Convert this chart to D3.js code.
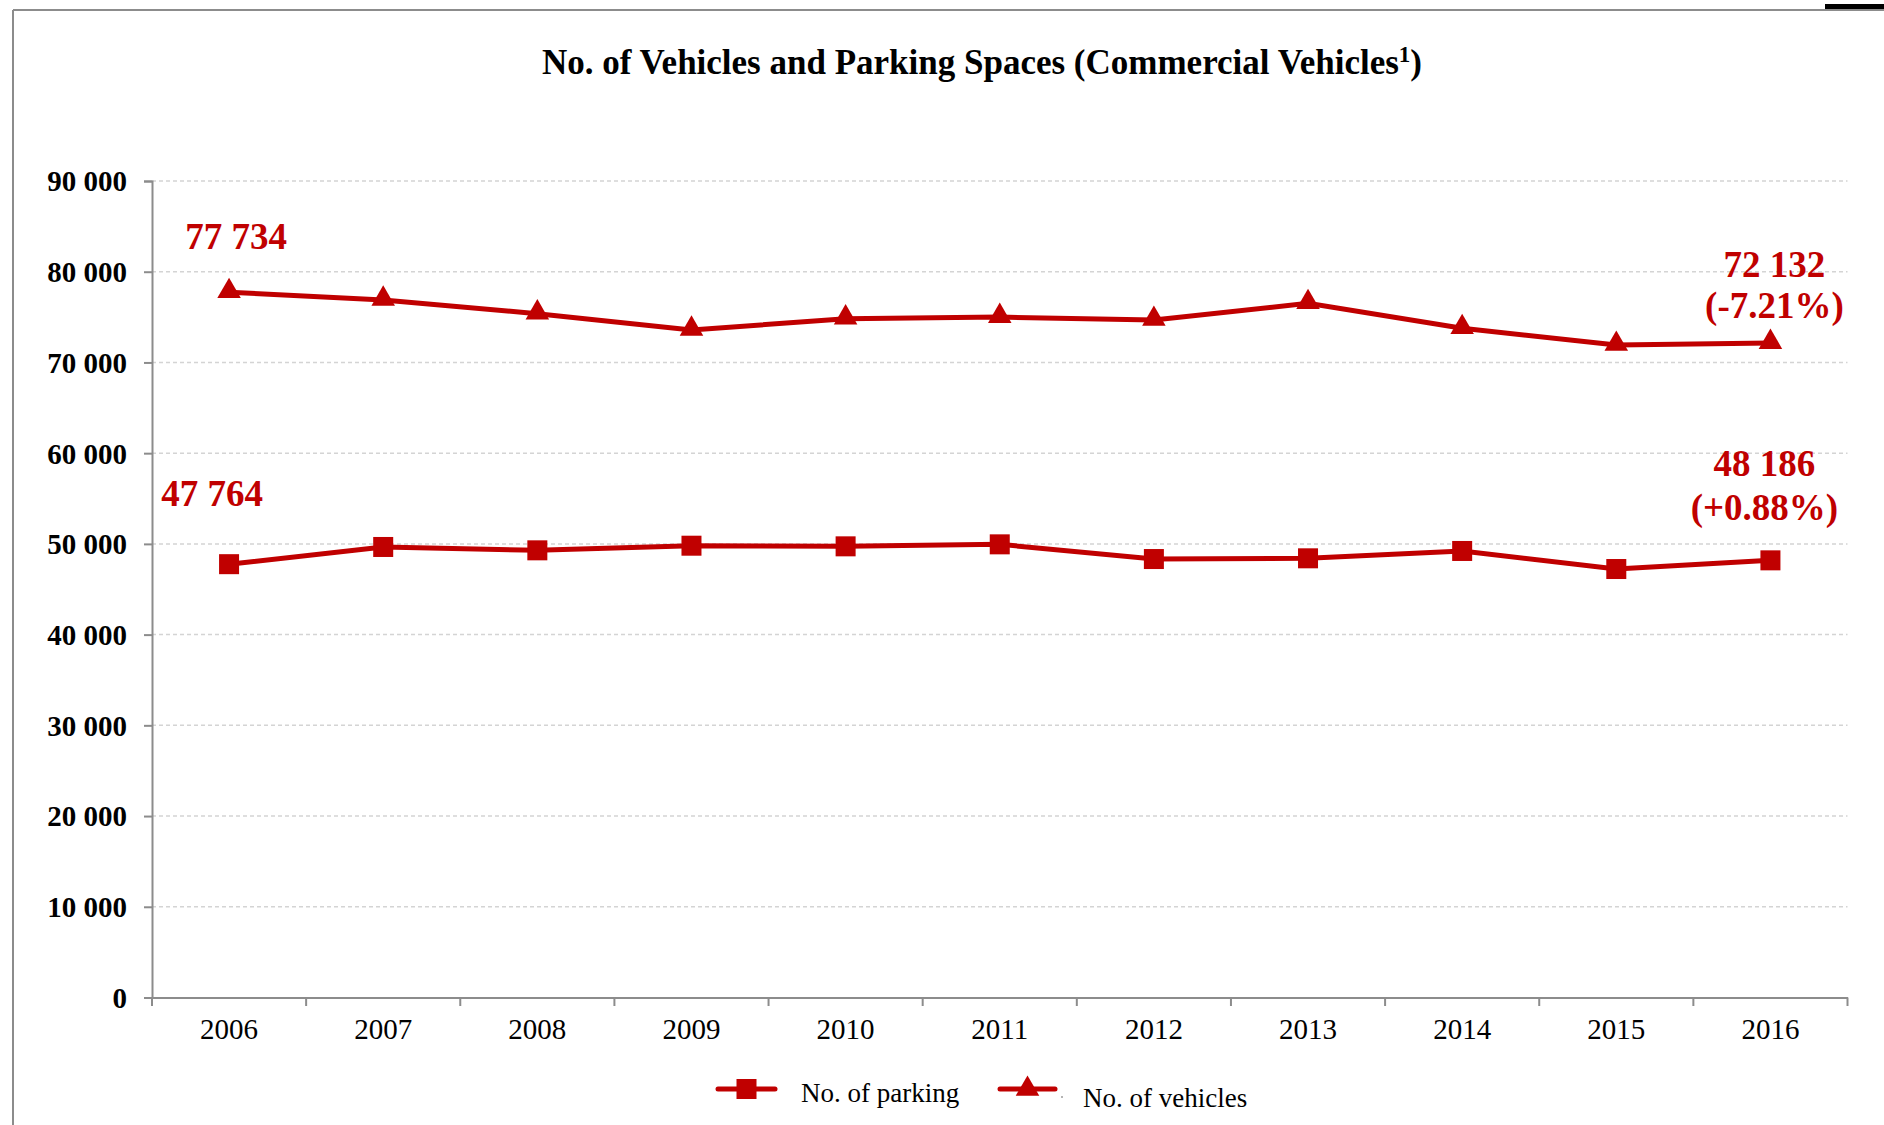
<!DOCTYPE html>
<html>
<head>
<meta charset="utf-8">
<script src="https://cdn.jsdelivr.net/npm/d3@7"></script>
<style>
  body { margin: 0; background: #fff; }
  svg { display: block; font-family: "Liberation Serif", "Times New Roman", serif; }
</style>
</head>
<body>
<svg id="chart" width="1884" height="1125"></svg>
<script>
// chart data
const years = [2006, 2007, 2008, 2009, 2010, 2011, 2012, 2013, 2014, 2015, 2016];
const vehicles = [77734, 76890, 75380, 73580, 74820, 75000, 74680, 76520, 73770, 71925, 72132];
const parking = [47764, 49660, 49290, 49800, 49730, 49950, 48330, 48410, 49220, 47230, 48186];
const yTicks = [0, 10000, 20000, 30000, 40000, 50000, 60000, 70000, 80000, 90000];
const seriesNames = ["No. of parking", "No. of vehicles"];

const red = "#C00000";
const svg = d3.select("#chart");

// page frame
svg.append("line").attr("x1", 13).attr("x2", 1884).attr("y1", 10).attr("y2", 10)
  .attr("stroke", "#8c8c8c").attr("stroke-width", 2);
svg.append("line").attr("x1", 13).attr("x2", 13).attr("y1", 10).attr("y2", 1125)
  .attr("stroke", "#8c8c8c").attr("stroke-width", 2);
svg.append("rect").attr("x", 1825).attr("y", 4).attr("width", 59).attr("height", 5).attr("fill", "#000");

// title
const title = svg.append("text")
  .attr("x", 982).attr("y", 74)
  .attr("text-anchor", "middle")
  .style("font-size", "35px").style("font-weight", "bold");
title.append("tspan").text("No. of Vehicles and Parking Spaces (Commercial Vehicles");
title.append("tspan").text("1").attr("dy", -12).style("font-size", "23px");
title.append("tspan").text(")").attr("dy", 12);

// scales
const x = d3.scaleBand().domain(years).range([152, 1847.5]);
const y = d3.scaleLinear().domain([0, 90000]).range([997.5, 181]);
const cx = d => x(d) + x.bandwidth() / 2;

// gridlines
svg.append("g").selectAll("line").data(yTicks.filter(d => d > 0)).join("line")
  .attr("x1", 152).attr("x2", 1847.5)
  .attr("y1", d => y(d)).attr("y2", d => y(d))
  .attr("stroke", "#d4d4d4").attr("stroke-width", 1.5).attr("stroke-dasharray", "4,3");

// y axis
const fmt = d => d3.format(",")(d).replace(/,/g, " ");
const yAxis = svg.append("g").attr("transform", "translate(152,0)")
  .call(d3.axisLeft(y).tickValues(yTicks).tickSize(8).tickPadding(17).tickFormat(fmt));
yAxis.select(".domain").attr("stroke", "#8c8c8c").attr("stroke-width", 2);
yAxis.selectAll(".tick line").attr("stroke", "#8c8c8c").attr("stroke-width", 2);
yAxis.selectAll(".tick text")
  .style("font-size", "29px").style("font-weight", "bold")
  .style("font-family", "'Liberation Serif', serif").attr("fill", "#000").attr("dy", "0.34em");

// x axis: line, boundary ticks, labels at centres
const xAxis = svg.append("g").attr("transform", "translate(0,997.5)")
  .call(d3.axisBottom(x).tickSize(0).tickPadding(21));
xAxis.select(".domain").attr("stroke", "#8c8c8c").attr("stroke-width", 2);
xAxis.selectAll(".tick text")
  .style("font-size", "29px").style("font-family", "'Liberation Serif', serif")
  .attr("fill", "#000");
const bounds = years.map(d => x(d)).concat([x.range()[1]]);
svg.append("g").selectAll("line").data(bounds).join("line")
  .attr("x1", d => d).attr("x2", d => d)
  .attr("y1", 997.5).attr("y2", 1006)
  .attr("stroke", "#8c8c8c").attr("stroke-width", 2);

// lines and markers
const line = d3.line().x((d, i) => cx(years[i])).y(d => y(d));
const tri = d3.symbol().type(d3.symbolTriangle).size(240);

svg.append("path").datum(parking).attr("d", line)
  .attr("fill", "none").attr("stroke", red).attr("stroke-width", 5);
svg.append("path").datum(vehicles).attr("d", line)
  .attr("fill", "none").attr("stroke", red).attr("stroke-width", 5);

svg.append("g").selectAll("rect").data(parking).join("rect")
  .attr("x", (d, i) => cx(years[i]) - 10).attr("y", d => y(d) - 10)
  .attr("width", 20).attr("height", 20).attr("fill", red);
svg.append("g").selectAll("path").data(vehicles).join("path")
  .attr("d", tri)
  .attr("transform", (d, i) => `translate(${cx(years[i])},${y(d) - 1})`)
  .attr("fill", red);

// value labels
const last = years.length - 1;
const pct = arr => {
  const p = (arr[last] / arr[0] - 1) * 100;
  return "(" + (p >= 0 ? "+" : "") + p.toFixed(2) + "%)";
};
const labels = [
  { text: fmt(vehicles[0]), x: cx(years[0]) + 7, y: y(vehicles[0]) - 43 },
  { text: fmt(parking[0]), x: cx(years[0]) - 17, y: y(parking[0]) - 58 },
  { text: fmt(vehicles[last]), x: cx(years[last]) + 4, y: y(vehicles[last]) - 66 },
  { text: pct(vehicles), x: cx(years[last]) + 4, y: y(vehicles[last]) - 25 },
  { text: fmt(parking[last]), x: cx(years[last]) - 6, y: y(parking[last]) - 84 },
  { text: pct(parking), x: cx(years[last]) - 6, y: y(parking[last]) - 40 },
];
svg.append("g").selectAll("text").data(labels).join("text")
  .attr("x", d => d.x).attr("y", d => d.y)
  .attr("text-anchor", "middle")
  .attr("fill", red)
  .style("font-size", "37px").style("font-weight", "bold")
  .text(d => d.text);

// legend
const legend = svg.append("g");
legend.append("line").attr("x1", 718).attr("x2", 775).attr("y1", 1089).attr("y2", 1089)
  .attr("stroke", red).attr("stroke-width", 5).attr("stroke-linecap", "round");
legend.append("rect").attr("x", 736.5).attr("y", 1079).attr("width", 20).attr("height", 20).attr("fill", red);
legend.append("text").attr("x", 801).attr("y", 1102)
  .style("font-size", "27px").text(seriesNames[0]);

legend.append("line").attr("x1", 1000).attr("x2", 1055).attr("y1", 1089).attr("y2", 1089)
  .attr("stroke", red).attr("stroke-width", 5).attr("stroke-linecap", "round");
legend.append("path").attr("d", tri).attr("transform", "translate(1027.5,1089)").attr("fill", red);
legend.append("circle").attr("cx", 1062).attr("cy", 1097).attr("r", 0.8).attr("fill", "#555");
legend.append("text").attr("x", 1083).attr("y", 1107)
  .style("font-size", "27px").text(seriesNames[1]);
</script>
</body>
</html>
